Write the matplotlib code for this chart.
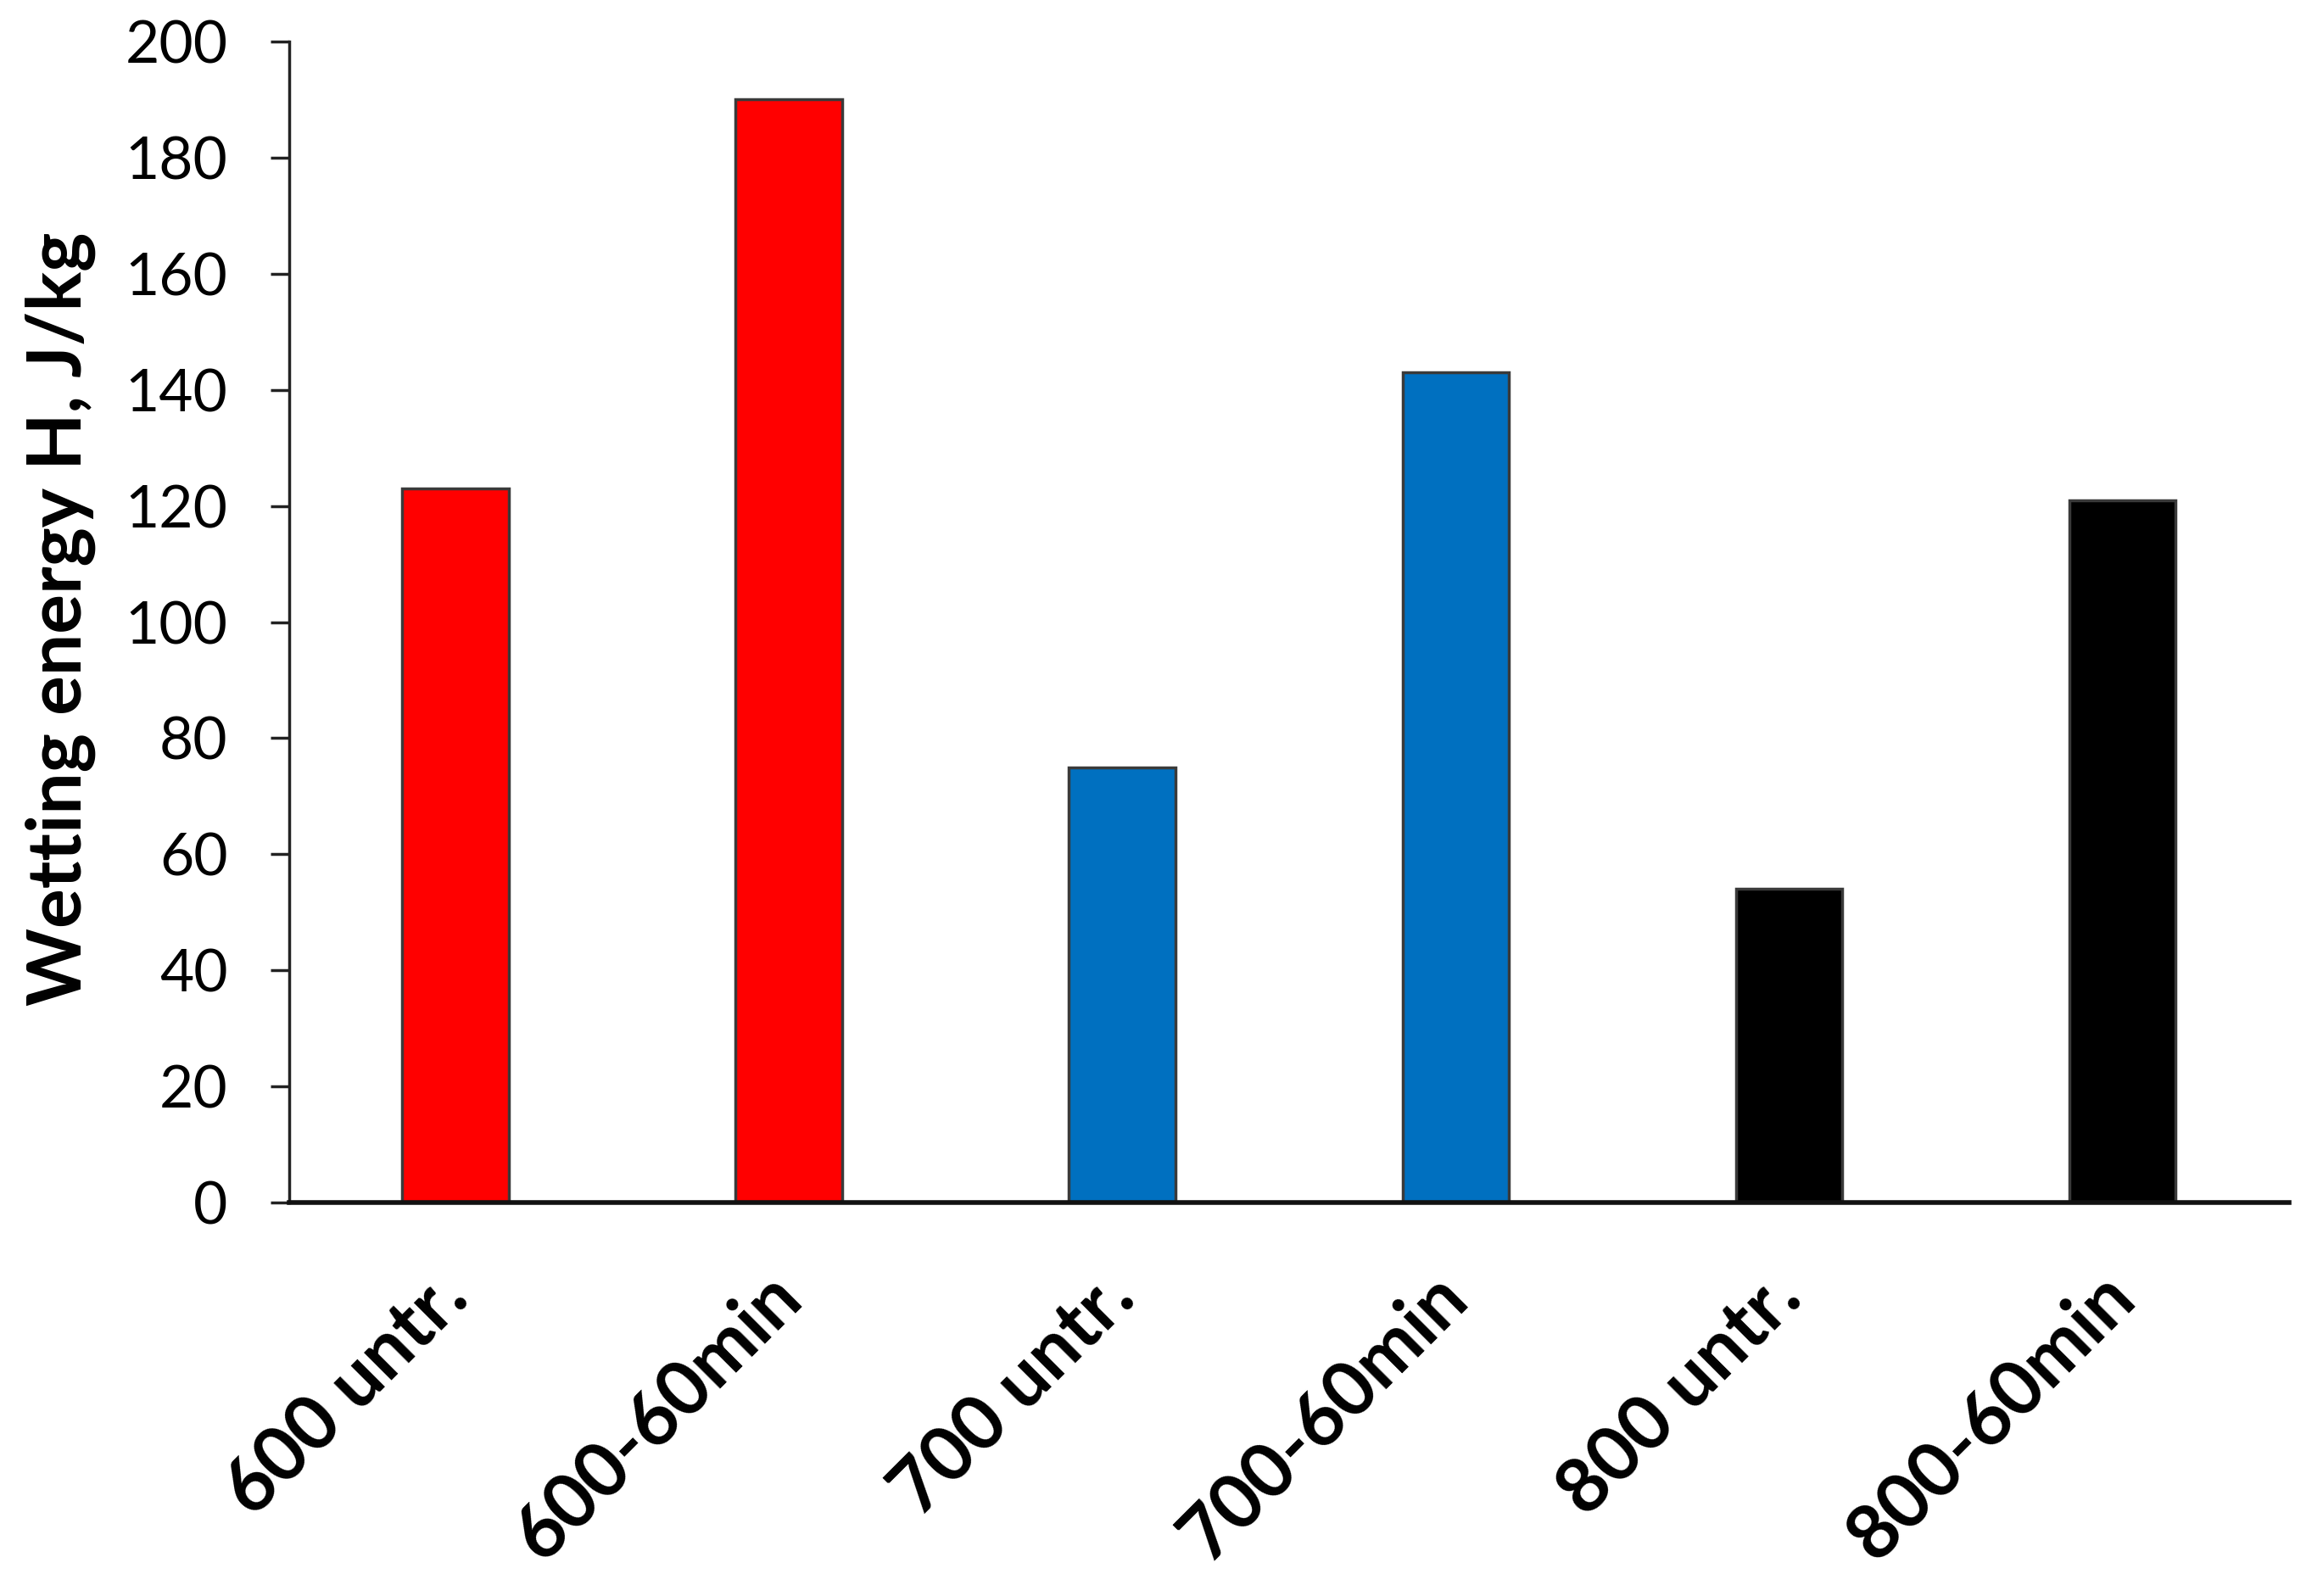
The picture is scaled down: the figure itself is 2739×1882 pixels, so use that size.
import matplotlib.pyplot as plt

categories = ["600 untr.", "600-60min", "700 untr.", "700-60min", "800 untr.", "800-60min"]
values = [123, 190, 75, 143, 54, 121]
bar_colors = ["#FF0000", "#FF0000", "#0070C0", "#0070C0", "#000000", "#000000"]
y_ticks = [0, 20, 40, 60, 80, 100, 120, 140, 160, 180, 200]

plt.rcParams['font.family'] = ['Lato', 'DejaVu Sans']

fig = plt.figure(figsize=(27.39, 18.82), dpi=100)
ax = fig.add_axes([0.1244, 0.2465, 0.861, 0.7275])

x = range(len(categories))
ax.bar(x, values, width=0.32, color=bar_colors, edgecolor="#3a3a3a", linewidth=2.5, zorder=2)

ax.set_xlim(-0.5, 5.5)
ax.set_ylim(0, 200)
ax.set_yticks(y_ticks)
ax.set_yticklabels([str(t) for t in y_ticks], fontsize=50)
ax.set_xticks(list(x))
ax.set_xticklabels(categories, fontsize=64, fontweight="bold", rotation=45,
                   ha="right", va="center", rotation_mode="anchor")

ax.tick_params(axis="y", length=16, width=2.5, pad=36, color="#222222")
ax.tick_params(axis="x", length=0, pad=70)

for side in ["top", "right"]:
    ax.spines[side].set_visible(False)
ax.spines["left"].set_linewidth(2.5)
ax.spines["left"].set_color("#222222")
ax.spines["bottom"].set_linewidth(4)
ax.spines["bottom"].set_color("#111111")

fig.text(0.026, 0.612, "Wetting energy H, J/kg", rotation=90, ha="center", va="center",
         fontsize=63, fontweight="bold")

fig.savefig("out.png", dpi=100)
